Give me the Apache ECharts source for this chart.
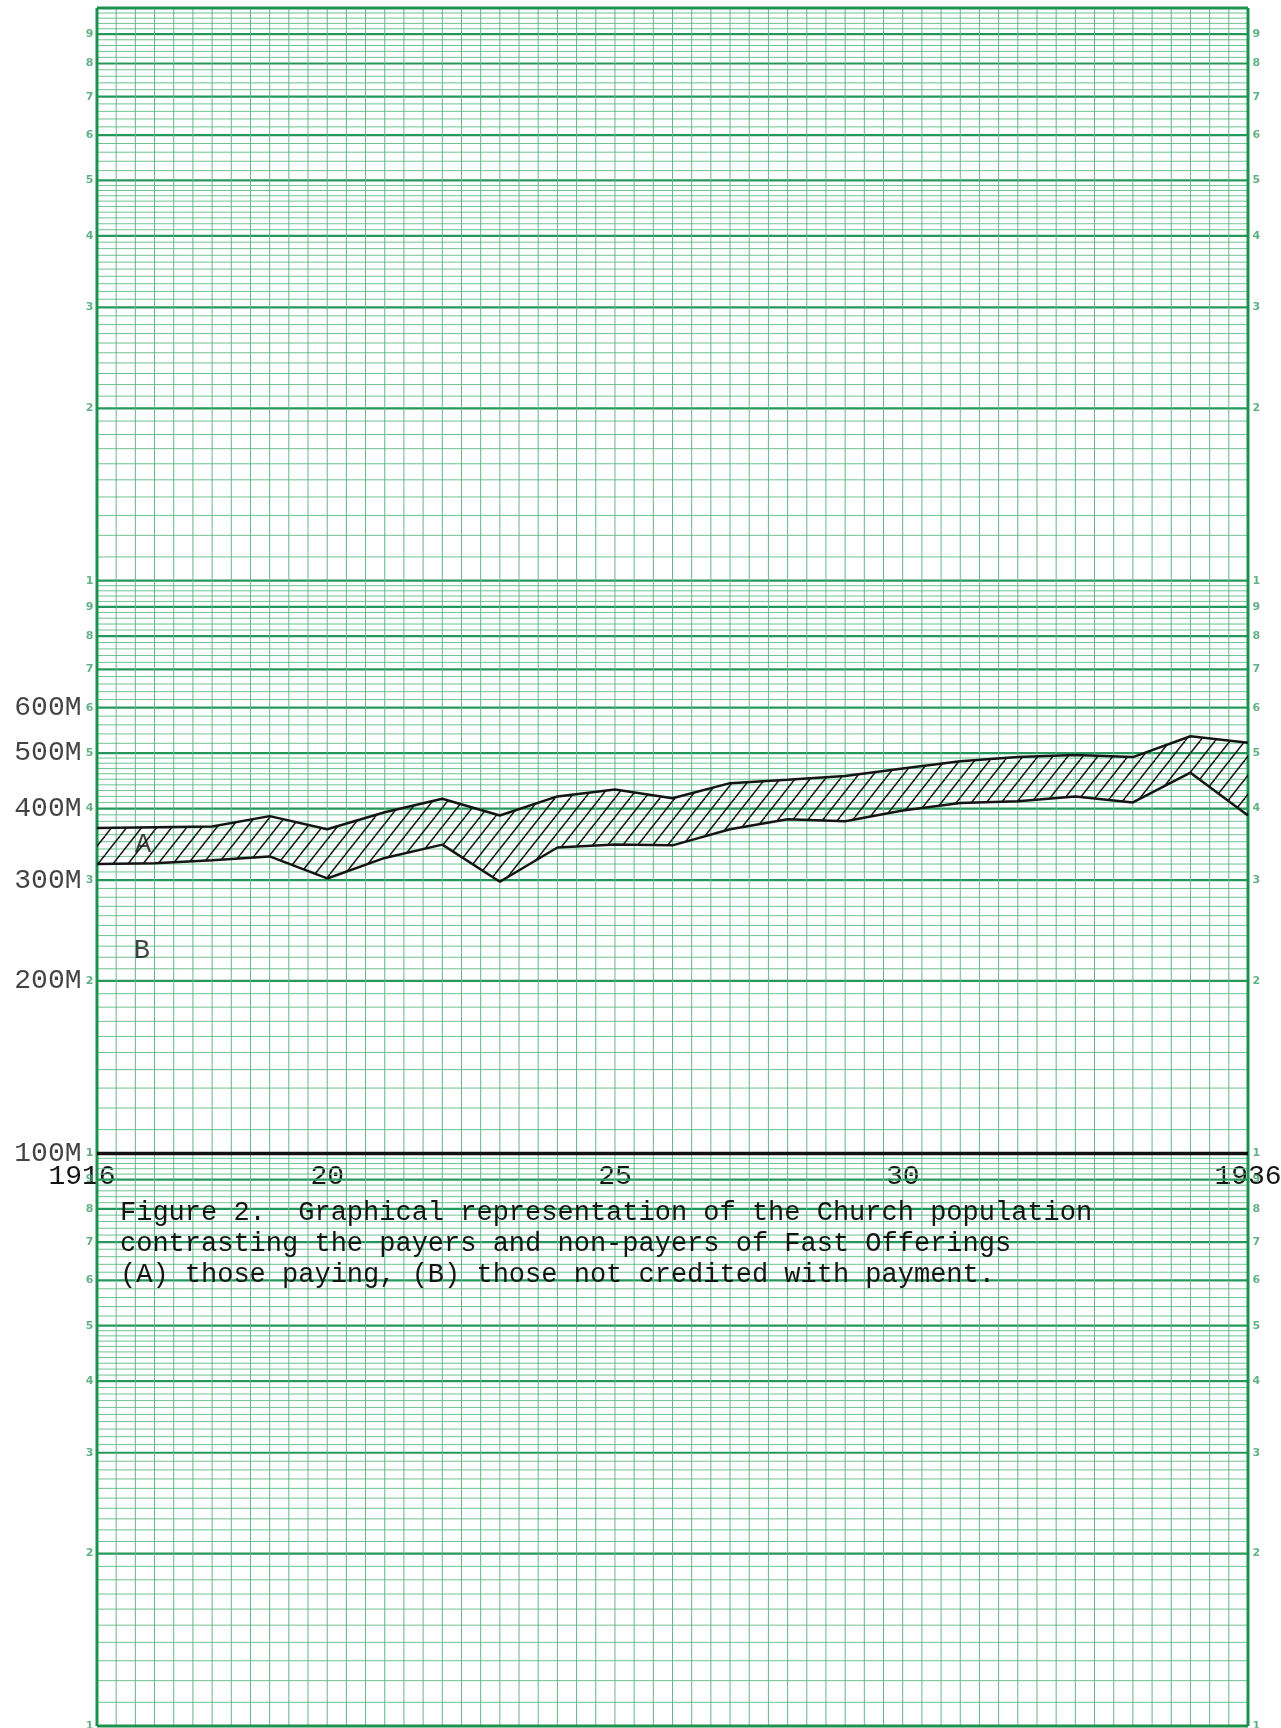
<!DOCTYPE html>
<html><head><meta charset="utf-8">
<script src="https://cdn.jsdelivr.net/npm/echarts@6/dist/echarts.min.js"></script>
<style>html,body{margin:0;padding:0;background:#fff;}#c{width:1281px;height:1728px;}</style>
</head><body><div id="c"></div>
<script>
// ---- data (population in thousands, "M") ----
const years = [1916,1917,1918,1919,1920,1921,1922,1923,1924,1925,1926,1927,1928,1929,1930,1931,1932,1933,1934,1935,1936];
const totalPop = [370,371,372,388,368,394,416,389,420,432,417,443,449,456,470,484,492,496,492,535,521];
const nonPayers = [320,321,325,330,302,328,346,298,342,346,345,368,383,380,397,409,412,420,410,462,389];
const xTickLabels = {1916:'1916',1920:'20',1925:'25',1930:'30',1936:'1936'};
const yTickValues = [100,200,300,400,500,600];
const yTickLabels = ['100M','200M','300M','400M','500M','600M'];
const bandLabels = [{name:'A', value:[1916.8, 345]}, {name:'B', value:[1916.78, 226]}];
const captionLines = [
  'Figure 2.  Graphical representation of the Church population',
  'contrasting the payers and non-payers of Fast Offerings',
  '(A) those paying, (B) those not credited with payment.'
];

const MONO = "'Liberation Mono','DejaVu Sans Mono',monospace";
const INK = '#141414';

// ---- semi-log graph paper (decoration) ----
const paper = [];
[10,100,1000].forEach(d => {
  for (let i = 10; i < 100; i += (i < 50 ? 1 : 2)) {
    const v = d * i / 10;
    if (v === 10) continue;
    paper.push([1916, v, 1936, v, i % 10 === 0 ? 1 : 0]);
  }
});
for (let k = 1; k < 60; k++) paper.push([1916 + k/3, 10, 1916 + k/3, 10000, 2]);
paper.push([1916, 10, 1936, 10, 3], [1916, 10000, 1936, 10000, 3],
           [1916, 10, 1916, 10000, 3], [1936, 10, 1936, 10000, 3]);
const paperStyles = [
  {c:'#6ec293', w:1},
  {c:'#24985a', w:2.2},
  {c:'#62b687', w:1},
  {c:'#1d9150', w:3}
];
const digitsLeft = [], digitsRight = [];
[10,100,1000].forEach(d => {
  for (let m = 1; m <= 9; m++) {
    digitsLeft.push({name:String(m), value:[1916, d*m]});
    digitsRight.push({name:String(m), value:[1936, d*m]});
  }
});

function renderPaper(params, api) {
  const p1 = api.coord([api.value(0), api.value(1)]);
  const p2 = api.coord([api.value(2), api.value(3)]);
  const st = paperStyles[api.value(4)];
  return {type:'line', silent:true,
    shape:{x1:p1[0], y1:p1[1], x2:p2[0], y2:p2[1]},
    style:{stroke:st.c, lineWidth:st.w}};
}

function hatch() {
  const w = 15, h = 19;
  const c = document.createElement('canvas'); c.width = w; c.height = h;
  const g = c.getContext('2d');
  g.strokeStyle = '#151515'; g.lineWidth = 1.5;
  for (const o of [-w, 0, w]) { g.beginPath(); g.moveTo(o, h); g.lineTo(o + w, 0); g.stroke(); }
  return c;
}
const HATCH = hatch();

// band segments between consecutive years: [x0, upper0, lower0, x1, upper1, lower1]
const bandSegs = [];
for (let i = 0; i < years.length - 1; i++) {
  bandSegs.push([years[i], totalPop[i], nonPayers[i], years[i+1], totalPop[i+1], nonPayers[i+1]]);
}
function renderBand(params, api) {
  const a = api.coord([api.value(0), api.value(1)]);
  const b = api.coord([api.value(3), api.value(4)]);
  const c = api.coord([api.value(3), api.value(5)]);
  const d = api.coord([api.value(0), api.value(2)]);
  return {type:'polygon', silent:true, shape:{points:[a, b, c, d]},
    style:{fill:{image:HATCH, repeat:'repeat'}, stroke:null}};
}

const chart = echarts.init(document.getElementById('c'), null, {renderer:'canvas'});
chart.setOption({
  backgroundColor:'#ffffff',
  animation:false,
  title:{
    text: captionLines.join('\n'), left:115, top:1192,
    textStyle:{fontFamily:MONO, fontSize:27, fontWeight:'normal', color:INK, lineHeight:31}
  },
  grid:[
    {left:97, right:33, top:8, bottom:2, outerBoundsMode:'none'},
    {left:97, right:33, top:8, bottom:574.7, outerBoundsMode:'none'}
  ],
  xAxis:[
    {gridIndex:0, type:'value', min:1916, max:1936, show:false},
    {gridIndex:1, type:'value', min:1916, max:1936, interval:1,
     axisLine:{show:false}, axisTick:{show:false}, splitLine:{show:false},
     axisLabel:{margin:9, fontFamily:MONO, fontSize:28, color:INK,
       formatter: v => v === 1916 ? '{l|1916}' : (xTickLabels[v] || ''),
       rich:{l:{fontFamily:MONO, fontSize:28, color:INK, padding:[0,30,0,0]}}}}
  ],
  yAxis:[
    {gridIndex:0, type:'log', logBase:10, min:10, max:10000, show:false},
    {gridIndex:1, type:'log', logBase:10, min:100, max:10000, show:false}
  ],
  series:[
    {type:'custom', name:'paper', xAxisIndex:0, yAxisIndex:0, clip:false, silent:true, z:1,
     renderItem: renderPaper, encode:{x:[0,2], y:[1,3]}, data: paper},
    {type:'custom', name:'band A', xAxisIndex:0, yAxisIndex:0, clip:false, silent:true, z:3,
     renderItem: renderBand, encode:{x:[0,3], y:[1,2,4,5]}, data: bandSegs},
    {type:'line', name:'non-payers', xAxisIndex:0, yAxisIndex:0, symbol:'none', z:5,
     lineStyle:{color:INK, width:2.5}, data: years.map((y,i) => [y, nonPayers[i]]),
     markLine:{silent:true, symbol:'none', label:{show:false},
       lineStyle:{color:'#111', width:3.4, type:'solid'}, data:[{yAxis:100}]}},
    {type:'line', name:'total', xAxisIndex:0, yAxisIndex:0, symbol:'none', z:5,
     lineStyle:{color:INK, width:2.5}, data: years.map((y,i) => [y, totalPop[i]])},
    {type:'scatter', name:'yLabels', xAxisIndex:0, yAxisIndex:0, symbolSize:1, z:6,
     itemStyle:{color:'rgba(0,0,0,0)'},
     label:{show:true, position:'left', distance:15, formatter:'{b}', fontFamily:MONO, fontSize:28, color:INK},
     data: yTickValues.map((v,i) => ({name: yTickLabels[i], value:[1916, v]}))},
    {type:'scatter', name:'digitsL', xAxisIndex:0, yAxisIndex:0, symbolSize:1, z:6,
     itemStyle:{color:'rgba(0,0,0,0)'},
     label:{show:true, position:'left', distance:3, formatter:'{b}', fontFamily:"'DejaVu Sans',sans-serif", fontSize:11, fontWeight:'bold', color:'#3a9d66'},
     data: digitsLeft},
    {type:'scatter', name:'digitsR', xAxisIndex:0, yAxisIndex:0, symbolSize:1, z:6,
     itemStyle:{color:'rgba(0,0,0,0)'},
     label:{show:true, position:'right', distance:4, formatter:'{b}', fontFamily:"'DejaVu Sans',sans-serif", fontSize:11, fontWeight:'bold', color:'#3a9d66'},
     data: digitsRight},
    {type:'scatter', name:'bandLabels', xAxisIndex:0, yAxisIndex:0, symbolSize:1, z:6,
     itemStyle:{color:'rgba(0,0,0,0)'},
     label:{show:true, position:'inside', formatter:'{b}', fontFamily:MONO, fontSize:27, color:INK},
     data: bandLabels}
  ]
});
</script></body></html>
